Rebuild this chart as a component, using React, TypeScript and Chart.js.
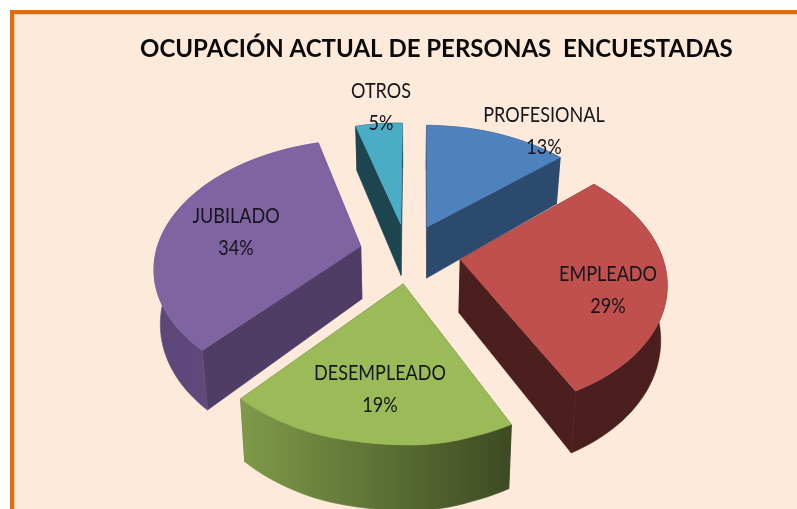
import React, { useEffect, useRef } from "react";
import { Chart, registerables } from "chart.js";

Chart.register(...registerables);

const categories = ["PROFESIONAL", "EMPLEADO", "DESEMPLEADO", "JUBILADO", "OTROS"];
const shares = [13, 29, 19, 34, 5];
const explosion = [24, 26, 24, 24, 24];

const topColors = ["#4f81bd", "#c0504d", "#9bbb59", "#8064a2", "#4bacc6"];
const wallColors = ["#2c4a6e", "#4b1f1d", "#4f6030", "#503d66", "#1c4550"];
const arcWallStops = [
  ["#2c4a6e", "#2c4a6e"],
  ["#4b1f1d", "#4b1f1d"],
  ["#7f9a4a", "#3d4a22"],
  ["#5c4678", "#6a5288"],
  ["#1c4550", "#1c4550"],
];
const labelCenters = [
  [544, 131],
  [608, 290],
  [380, 389],
  [236, 232],
  [381, 107],
];
const drawOrder = [4, 0, 3, 1, 2];

const CX = 408;
const CY = 253;
const RX = 203;
const RY = 125;
const K = 0.156;
const H = 53;
const SHEAR_X = 7;
const SHEAR_Y = 5;
const FLOOR_SHRINK = 0.975;
const LINE = 32;
const FONT = '22px "Lato"';
const TEXT_SQUEEZE = 0.82;

function project(u: number, v: number, z = 0) {
  const s = 1 / (1 - K * v);
  const shear = SHEAR_X * v * Math.min(1, Math.abs(u) / 0.3);
  const x = (RX * u - shear) * s;
  return {
    x: CX + (z ? x * FLOOR_SHRINK : x),
    y: CY + (RY * v + SHEAR_Y * u) * s + z * s,
    v,
  };
}

function fillPoly(ctx: CanvasRenderingContext2D, pts: { x: number; y: number }[], fill: any) {
  ctx.beginPath();
  pts.forEach((p, i) => (i ? ctx.lineTo(p.x, p.y) : ctx.moveTo(p.x, p.y)));
  ctx.closePath();
  ctx.fillStyle = fill;
  ctx.fill();
  ctx.strokeStyle = fill;
  ctx.lineWidth = 0.6;
  ctx.lineJoin = "round";
  ctx.stroke();
}

const pie3d = {
  id: "pie3d",
  beforeDatasetDraw(chart: any, args: any) {
    const ctx: CanvasRenderingContext2D = chart.ctx;
    const els = args.meta.data;
    drawOrder.forEach((i) => {
      const el = els[i];
      const mid = (el.startAngle + el.endAngle) / 2;
      const e = el.options.offset / 100;
      const ou = Math.cos(mid) * e;
      const ov = Math.sin(mid) * e;
      const n = Math.max(8, Math.round(((el.endAngle - el.startAngle) * 180) / Math.PI / 2));
      const ring: [number, number][] = [];
      for (let k = 0; k <= n; k++) {
        const a = el.startAngle + ((el.endAngle - el.startAngle) * k) / n;
        ring.push([ou + Math.cos(a), ov + Math.sin(a)]);
      }
      const ringTop = ring.map(([u, v]) => project(u, v));
      const ringBottom = ring.map(([u, v]) => project(u, v, H));
      const tipTop = project(ou, ov);
      const tipBottom = project(ou, ov, H);
      const xs = ringTop.map((p) => p.x);
      const grad = ctx.createLinearGradient(Math.min(...xs), 0, Math.max(...xs), 0);
      grad.addColorStop(0, arcWallStops[i][0]);
      grad.addColorStop(1, arcWallStops[i][1]);

      const last = ring.length - 1;
      const parts = [
        {
          v: (tipTop.v + ringTop[0].v) / 2,
          pts: [tipTop, ringTop[0], ringBottom[0], tipBottom],
          fill: wallColors[i],
        },
        {
          v: (tipTop.v + ringTop[last].v) / 2,
          pts: [tipTop, ringTop[last], ringBottom[last], tipBottom],
          fill: wallColors[i],
        },
        {
          v: Math.max(...ringTop.map((p) => p.v)),
          pts: [...ringTop, ...[...ringBottom].reverse()],
          fill: grad,
        },
      ];
      parts.sort((a, b) => a.v - b.v).forEach((q) => fillPoly(ctx, q.pts, q.fill));
      fillPoly(ctx, [tipTop, ...ringTop], el.options.backgroundColor);
    });
    return false;
  },
  afterDatasetsDraw(chart: any) {
    const ctx: CanvasRenderingContext2D = chart.ctx;
    ctx.font = FONT;
    ctx.fillStyle = "#15151c";
    ctx.textAlign = "center";
    ctx.textBaseline = "middle";
    categories.forEach((c, i) => {
      const [x, y] = labelCenters[i];
      ctx.save();
      ctx.translate(x, y);
      ctx.scale(TEXT_SQUEEZE, 1);
      ctx.fillText(c, 0, -LINE / 2);
      ctx.fillText(shares[i] + "%", 0, LINE / 2);
      ctx.restore();
    });
  },
};

export default function App() {
  const ref = useRef<HTMLCanvasElement>(null);
  useEffect(() => {
    document.body.style.margin = "0";
    const chart = new Chart(ref.current!, {
      type: "pie",
      data: {
        labels: categories,
        datasets: [
          {
            data: shares,
            backgroundColor: topColors,
            borderWidth: 0,
            offset: explosion,
          },
        ],
      },
      options: {
        animation: false,
        responsive: false,
        layout: { padding: { left: 140, top: 35 } },
        plugins: {
          legend: { display: false },
          tooltip: { enabled: false },
          title: {
            display: true,
            text: "OCUPACIÓN ACTUAL DE PERSONAS  ENCUESTADAS",
            align: "start",
            color: "#0a0a0a",
            font: { family: "Lato", size: 24, weight: "bold" },
            padding: 0,
          },
        },
      },
      plugins: [pie3d],
    } as any);
    return () => chart.destroy();
  }, []);
  return (
    <div style={{ position: "relative", width: 797, height: 509, background: "#ffffff", overflow: "hidden" }}>
      <div
        style={{
          position: "absolute",
          left: 10,
          top: 10,
          width: 787,
          height: 499,
          boxSizing: "border-box",
          background: "#fdeada",
          borderTop: "4px solid #e36c0a",
          borderLeft: "4px solid #e36c0a",
          boxShadow: "inset 1px 1px 0 #f7c9a4",
        }}
      />
      <canvas ref={ref} width={797} height={509} style={{ position: "absolute", left: 0, top: 0 }} />
    </div>
  );
}
